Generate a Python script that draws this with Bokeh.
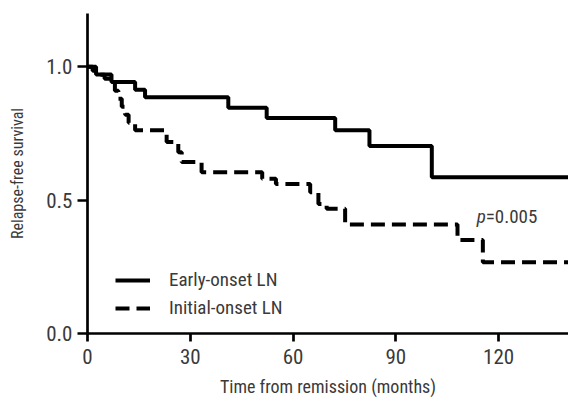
import math
from bokeh.plotting import figure
from bokeh.models import Range1d, Label, Legend, LegendItem, FixedTicker, PrintfTickFormatter
from bokeh.embed import file_html
from bokeh.resources import INLINE

# ---- data ----
early_t = [0, 2.5, 7, 13.9, 16.8, 41.1, 52.3, 72.3, 82.3, 100.5, 141]
early_s = [1.0, 0.971, 0.943, 0.914, 0.886, 0.847, 0.808, 0.762, 0.703, 0.586, 0.586]

initial_t = [0, 1.5, 3, 5, 7, 8, 9, 10, 11, 12, 13.9, 23.1, 26.5, 27.5, 33.3, 51.0,
             55.0, 65.0, 67.4, 69.8, 75.2, 108.0, 115.4, 141]
initial_s = [1.0, 0.985, 0.97, 0.955, 0.94, 0.91, 0.88, 0.85, 0.82, 0.79, 0.762, 0.718,
             0.68, 0.643, 0.605, 0.58, 0.561, 0.53, 0.486, 0.468, 0.409, 0.351, 0.267, 0.267]

x_ticks = [0, 30, 60, 90, 120]
y_ticks = [0.0, 0.5, 1.0]

series_names = ["Early-onset LN", "Initial-onset LN"]
x_title = "Time from remission (months)"
y_title = "Relapse-free survival"
p_value = "=0.005"

FONT = "'Roboto Condensed', 'DejaVu Sans Condensed', 'Liberation Sans Narrow', Roboto"
TXT = "#3a3a3a"

p = figure(width=568, height=401, output_backend="svg", toolbar_location=None,
           x_range=Range1d(0, 140.4), y_range=Range1d(0, 1.2),
           min_border_left=87, min_border_right=0, min_border_top=13, min_border_bottom=68)
p.outline_line_color = None
p.grid.visible = False
p.background_fill_color = "white"

r1 = p.step(early_t, early_s, mode="after", line_color="black", line_width=4)
r2 = p.step(initial_t, initial_s, mode="after", line_color="black", line_width=4,
            line_dash="14 7")

for ax in (p.xaxis[0], p.yaxis[0]):
    ax.axis_line_width = 2.7
    ax.axis_line_color = "black"
    ax.major_tick_line_width = 2.7
    ax.major_tick_line_color = "black"
    ax.major_tick_in = 0
    ax.minor_tick_line_color = None
    ax.major_label_text_font = FONT
    ax.major_label_text_font_size = "21px"
    ax.major_label_text_color = TXT
    ax.axis_label_text_font = FONT
    ax.axis_label_text_font_style = "normal"
    ax.axis_label_text_color = TXT

p.xaxis.ticker = FixedTicker(ticks=x_ticks)
p.xaxis.major_tick_out = 8
p.xaxis.major_label_standoff = 7
p.xaxis.axis_label = x_title
p.xaxis.axis_label_text_font_size = "18px"
p.xaxis.axis_label_standoff = 9
p.yaxis.ticker = FixedTicker(ticks=y_ticks)
p.yaxis.formatter = PrintfTickFormatter(format="%.1f")
p.yaxis.major_tick_out = 10
p.yaxis.major_label_standoff = 5
p.yaxis.axis_label = y_title
p.yaxis.axis_label_text_font_size = "16px"
p.yaxis.axis_label_standoff = 16

# p-value
p.add_layout(Label(x=113.6, y=0.44, text="p", text_font=FONT, text_font_size="19px",
                   text_font_style="italic", text_color=TXT, text_baseline="alphabetic"))
p.add_layout(Label(x=113.6, y=0.44, x_offset=9, text=p_value, text_font=FONT,
                   text_font_size="19px", text_color=TXT, text_baseline="alphabetic"))

legend = Legend(items=[LegendItem(label=series_names[0], renderers=[r1]),
                       LegendItem(label=series_names[1], renderers=[r2])],
                location=(28, 14), padding=0, margin=0, spacing=5,
                glyph_width=35, glyph_height=20, label_height=20, label_standoff=19,
                label_text_font=FONT, label_text_font_size="19px", label_text_color=TXT,
                border_line_color=None, background_fill_alpha=0)
p.add_layout(legend)

open("out.html", "w").write(file_html(p, INLINE))
